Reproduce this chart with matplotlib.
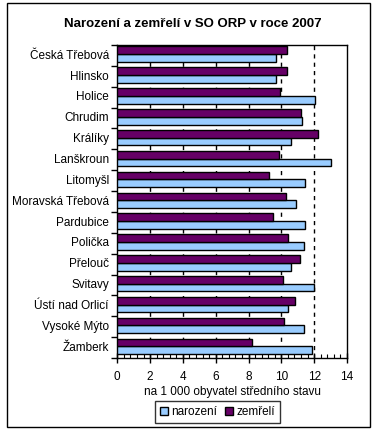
import matplotlib
matplotlib.use('Agg')
import matplotlib.pyplot as plt
from matplotlib.patches import Rectangle
from matplotlib.ticker import MultipleLocator
import numpy as np

plt.rcParams['font.family'] = ['Liberation Sans', 'DejaVu Sans']

regions = ['Česká Třebová', 'Hlinsko', 'Holice', 'Chrudim', 'Králíky', 'Lanškroun',
           'Litomyšl', 'Moravská Třebová', 'Pardubice', 'Polička', 'Přelouč',
           'Svitavy', 'Ústí nad Orlicí', 'Vysoké Mýto', 'Žamberk']
narozeni = [9.66, 9.70, 12.02, 11.25, 10.56, 13.0, 11.41, 10.92, 11.41, 11.35,
            10.56, 11.96, 10.43, 11.35, 11.84]
zemreli = [10.37, 10.37, 9.91, 11.17, 12.23, 9.85, 9.24, 10.27, 9.46, 10.43,
           11.13, 10.07, 10.86, 10.15, 8.24]

W, H = 385, 438
fig = plt.figure(figsize=(W / 100, H / 100), dpi=100)
ax = fig.add_axes([117.3 / W, 1 - 358 / H, 229.7 / W, 313 / H])

y = np.arange(len(regions))[::-1]
h = 0.37
ax.barh(y - h / 2 + 0.06, narozeni, height=h, color='#99ccff', edgecolor='black',
        linewidth=1, label='narození', zorder=3)
ax.barh(y + h / 2 + 0.06, zemreli, height=h, color='#660066', edgecolor='black',
        linewidth=1, label='zemřelí', zorder=3)

ax.set_xlim(0, 14)
ax.set_ylim(-0.5, len(regions) - 0.5)
ax.xaxis.set_major_locator(MultipleLocator(2))
ax.xaxis.set_minor_locator(MultipleLocator(0.4))
ax.tick_params(axis='x', which='major', direction='inout', length=7, width=1,
               labelsize=8.5, pad=6)
ax.tick_params(axis='x', which='minor', direction='in', length=3, width=0.8)
ax.set_yticks(y + 0.06)
ax.set_yticklabels(regions, fontsize=8.5)
ax.set_yticks(np.arange(len(regions) + 1) - 0.5, minor=True)
ax.tick_params(axis='y', which='major', length=0, pad=6)
ax.tick_params(axis='y', which='minor', direction='out', length=4, width=1)

for v in range(2, 14, 2):
    ax.axvline(v, color='black', linestyle=(0, (3, 3)), linewidth=1, zorder=1)

for s in ax.spines.values():
    s.set_linewidth(1)

ax.set_xlabel('na 1 000 obyvatel středního stavu', fontsize=8.5, labelpad=2)
fig.text(0.5, 1 - 24 / H, 'Narození a zemřelí v SO ORP v roce 2007',
         ha='center', va='center', fontsize=9.5, fontweight='bold')

leg = ax.legend(loc='center', bbox_to_anchor=(217.5 / W, 1 - 412 / H),
                bbox_transform=fig.transFigure, ncol=2, fontsize=8.5,
                frameon=True, fancybox=False, edgecolor='black',
                handlelength=0.7, handleheight=0.7, handletextpad=0.3,
                columnspacing=0.6, borderpad=0.4)
leg.get_frame().set_linewidth(1)

fig.patches.append(Rectangle((7 / W, 1 - 427 / H), 363 / W, 424 / H,
                             transform=fig.transFigure, fill=False,
                             edgecolor='black', linewidth=1))

fig.savefig('out.png', dpi=100)
